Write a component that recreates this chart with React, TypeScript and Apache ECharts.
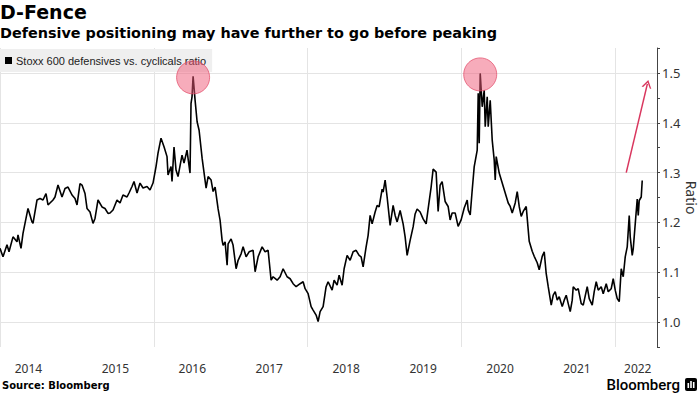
import React, { useEffect, useRef } from 'react';
import * as echarts from 'echarts';

const seriesName = 'Stoxx 600 defensives vs. cyclicals ratio';

const years = [
  2014.000, 2014.039, 2014.091, 2014.117, 2014.169, 2014.221, 2014.234, 2014.273, 2014.299, 2014.351,
  2014.364, 2014.416, 2014.429, 2014.481, 2014.520, 2014.559, 2014.598, 2014.624, 2014.689, 2014.715,
  2014.754, 2014.806, 2014.845, 2014.884, 2014.936, 2014.975, 2015.001, 2015.040, 2015.066, 2015.105,
  2015.131, 2015.170, 2015.209, 2015.235, 2015.274, 2015.326, 2015.365, 2015.404, 2015.430, 2015.469,
  2015.521, 2015.560, 2015.599, 2015.651, 2015.677, 2015.716, 2015.742, 2015.781, 2015.820, 2015.859,
  2015.911, 2015.950, 2015.989, 2016.028, 2016.054, 2016.093, 2016.132, 2016.171, 2016.184, 2016.223,
  2016.236, 2016.262, 2016.288, 2016.314, 2016.366, 2016.392, 2016.431, 2016.444, 2016.470, 2016.483,
  2016.496, 2016.510, 2016.536, 2016.562, 2016.588, 2016.627, 2016.653, 2016.679, 2016.705, 2016.744,
  2016.770, 2016.796, 2016.835, 2016.861, 2016.887, 2016.900, 2016.926, 2016.952, 2016.965, 2017.004,
  2017.030, 2017.069, 2017.095, 2017.134, 2017.160, 2017.199, 2017.238, 2017.290, 2017.316, 2017.355,
  2017.407, 2017.446, 2017.485, 2017.524, 2017.550, 2017.602, 2017.641, 2017.680, 2017.732, 2017.771,
  2017.810, 2017.849, 2017.901, 2017.940, 2017.966, 2018.005, 2018.044, 2018.070, 2018.109, 2018.135,
  2018.161, 2018.200, 2018.239, 2018.265, 2018.317, 2018.343, 2018.382, 2018.408, 2018.447, 2018.473,
  2018.512, 2018.551, 2018.590, 2018.629, 2018.668, 2018.694, 2018.720, 2018.759, 2018.785, 2018.811,
  2018.837, 2018.876, 2018.902, 2018.928, 2018.967, 2018.980, 2019.006, 2019.032, 2019.071, 2019.110,
  2019.136, 2019.162, 2019.201, 2019.240, 2019.266, 2019.292, 2019.331, 2019.370, 2019.396, 2019.422,
  2019.461, 2019.500, 2019.539, 2019.565, 2019.604, 2019.630, 2019.669, 2019.695, 2019.721, 2019.747,
  2019.786, 2019.825, 2019.851, 2019.877, 2019.916, 2019.955, 2019.994, 2020.034, 2020.073, 2020.086,
  2020.112, 2020.138, 2020.164, 2020.203, 2020.216, 2020.229, 2020.242, 2020.268, 2020.294, 2020.307,
  2020.333, 2020.346, 2020.372, 2020.398, 2020.424, 2020.437, 2020.450, 2020.489, 2020.528, 2020.567,
  2020.606, 2020.632, 2020.658, 2020.697, 2020.723, 2020.749, 2020.775, 2020.801, 2020.840, 2020.866,
  2020.879, 2020.918, 2020.944, 2020.983, 2021.009, 2021.048, 2021.074, 2021.100, 2021.126, 2021.165,
  2021.191, 2021.217, 2021.243, 2021.269, 2021.308, 2021.334, 2021.360, 2021.386, 2021.412, 2021.438,
  2021.451, 2021.490, 2021.516, 2021.555, 2021.581, 2021.633, 2021.659, 2021.698, 2021.724, 2021.750,
  2021.776, 2021.815, 2021.841, 2021.880, 2021.906, 2021.945, 2021.971, 2021.997, 2022.023, 2022.049,
  2022.075, 2022.101, 2022.127, 2022.153, 2022.179, 2022.192, 2022.218, 2022.231, 2022.257, 2022.283,
  2022.296, 2022.309, 2022.335, 2022.348,
];

const ratio = [
  1.148, 1.131, 1.155, 1.141, 1.171, 1.161, 1.175, 1.148, 1.178, 1.218,
  1.228, 1.201, 1.198, 1.245, 1.248, 1.245, 1.258, 1.235, 1.245, 1.251,
  1.275, 1.251, 1.268, 1.271, 1.255, 1.248, 1.235, 1.278, 1.275, 1.258,
  1.228, 1.221, 1.198, 1.208, 1.245, 1.231, 1.228, 1.218, 1.219, 1.225,
  1.245, 1.239, 1.255, 1.251, 1.259, 1.272, 1.282, 1.259, 1.279, 1.269,
  1.272, 1.265, 1.279, 1.312, 1.339, 1.369, 1.352, 1.332, 1.295, 1.312,
  1.282, 1.351, 1.305, 1.292, 1.335, 1.319, 1.345, 1.329, 1.299, 1.439,
  1.452, 1.493, 1.445, 1.402, 1.385, 1.329, 1.299, 1.269, 1.292, 1.285,
  1.262, 1.271, 1.227, 1.204, 1.164, 1.154, 1.161, 1.114, 1.157, 1.167,
  1.154, 1.107, 1.124, 1.137, 1.151, 1.131, 1.141, 1.144, 1.101, 1.131,
  1.151, 1.141, 1.144, 1.084, 1.091, 1.084, 1.091, 1.107, 1.091, 1.087,
  1.077, 1.071, 1.077, 1.081, 1.067, 1.057, 1.031, 1.024, 1.014, 1.001,
  1.021, 1.031, 1.071, 1.081, 1.064, 1.084, 1.074, 1.094, 1.074, 1.107,
  1.134, 1.124, 1.141, 1.144, 1.134, 1.131, 1.111, 1.151, 1.174, 1.214,
  1.197, 1.221, 1.234, 1.231, 1.267, 1.261, 1.285, 1.251, 1.194, 1.234,
  1.214, 1.201, 1.224, 1.197, 1.171, 1.134, 1.164, 1.191, 1.217, 1.227,
  1.221, 1.207, 1.197, 1.227, 1.271, 1.307, 1.301, 1.222, 1.275, 1.282,
  1.242, 1.232, 1.205, 1.219, 1.219, 1.192, 1.205, 1.229, 1.245, 1.225,
  1.215, 1.265, 1.312, 1.345, 1.459, 1.359, 1.499, 1.432, 1.465, 1.392,
  1.452, 1.392, 1.445, 1.365, 1.325, 1.285, 1.332, 1.299, 1.279, 1.259,
  1.239, 1.232, 1.219, 1.239, 1.262, 1.232, 1.212, 1.222, 1.232, 1.185,
  1.162, 1.142, 1.132, 1.119, 1.105, 1.132, 1.141, 1.097, 1.071, 1.034,
  1.054, 1.061, 1.044, 1.051, 1.031, 1.044, 1.054, 1.037, 1.021, 1.044,
  1.071, 1.064, 1.067, 1.037, 1.034, 1.071, 1.047, 1.034, 1.061, 1.081,
  1.064, 1.071, 1.057, 1.077, 1.061, 1.067, 1.087, 1.064, 1.047, 1.041,
  1.107, 1.091, 1.131, 1.151, 1.214, 1.171, 1.134, 1.147, 1.197, 1.247,
  1.214, 1.244, 1.251, 1.284,
];

// x-axis tick labels (year) and where each is centred (decimal year)
const yearLabels = ['2014', '2015', '2016', '2017', '2018', '2019', '2020', '2021', '2022'];
const yearLabelAt = [2014.37, 2015.5, 2016.5, 2017.5, 2018.5, 2019.5, 2020.5, 2021.5, 2022.29];

// y-axis tick labels
const yLabels = ['1.0', '1.1', '1.2', '1.3', '1.4', '1.5'];

// annotation arrow (decimal year, ratio)
const arrowFrom = [2022.14, 1.3];
const arrowTo = [2022.415, 1.478];

// windows searched for the two highlighted peaks
const peakWindows = [[2015, 2018], [2019, 2021]];

export default function App() {
  const ref = useRef<HTMLDivElement>(null);

  useEffect(() => {
    document.body.style.margin = '0';
    const chart = echarts.init(ref.current!, null, { renderer: 'svg' });

    const data = years.map((y, i) => [y, ratio[i]]);
    const peaks = peakWindows.map(([lo, hi]) => {
      let best = -1;
      for (let i = 0; i < years.length; i++) {
        if (years[i] >= lo && years[i] < hi && (best < 0 || ratio[i] > ratio[best])) best = i;
      }
      return best;
    });

    const sans = 'Noto Sans';

    const option: any = {
      animation: false,
      backgroundColor: '#ffffff',
      title: [
        {
          text: 'D-Fence',
          left: 0,
          top: 2,
          textStyle: { fontFamily: 'DejaVu Sans', fontWeight: 'bold', fontSize: 19, color: '#000' },
          padding: 0,
        },
        {
          text: 'Defensive positioning may have further to go before peaking',
          left: 0,
          top: 26,
          textStyle: { fontFamily: 'DejaVu Sans', fontWeight: 'bold', fontSize: 14.4, color: '#000' },
          padding: 0,
        },
      ],
      legend: {
        data: [seriesName],
        left: 0,
        top: 49,
        backgroundColor: '#efefef',
        padding: [6, 6, 6, 5],
        icon: 'rect',
        itemWidth: 7,
        itemHeight: 7,
        itemGap: 4,
        selectedMode: false,
        textStyle: { fontFamily: 'Liberation Sans', fontSize: 11, color: '#222', padding: [0, 0, 0, -1] },
      },
      grid: { left: 0, right: 43, top: 48, bottom: 47, containLabel: false, outerBoundsMode: 'none' },
      xAxis: {
        type: 'value',
        min: 2014,
        max: 2022.54,
        interval: 2,
        axisLine: { show: false },
        axisTick: { show: false },
        splitLine: { show: true, lineStyle: { color: '#e4e4e4', width: 1 } },
        axisLabel: {
          customValues: yearLabelAt,
          margin: 15,
          fontFamily: sans,
          fontSize: 12,
          color: '#333',
          formatter: (v: number) => {
            const idx = yearLabelAt.findIndex((p) => Math.abs(p - v) < 1e-6);
            return idx >= 0 ? yearLabels[idx] : '';
          },
        },
      },
      yAxis: {
        type: 'value',
        position: 'right',
        min: 0.95,
        max: 1.55,
        interval: 0.05,
        name: 'Ratio',
        nameLocation: 'middle',
        nameRotate: -90,
        nameGap: 27,
        nameMoveOverlap: false,
        nameTextStyle: { fontFamily: sans, fontSize: 14, color: '#333' },
        axisLine: { show: true, lineStyle: { color: '#444', width: 1 } },
        axisTick: { show: true, inside: false, length: 3, lineStyle: { color: '#444' } },
        splitLine: { show: true, lineStyle: { color: ['rgba(0,0,0,0)', '#e4e4e4'], width: 1 } },
        axisLabel: {
          margin: 5,
          fontFamily: sans,
          fontSize: 13,
          color: '#333',
          formatter: (v: number) => {
            const s = v.toFixed(1);
            return Math.round(v * 100) % 10 === 0 && yLabels.includes(s) ? s : '';
          },
        },
      },
      series: [
        {
          name: seriesName,
          type: 'line',
          data,
          showSymbol: false,
          symbol: 'none',
          color: '#000',
          lineStyle: { color: '#000', width: 1.6 },
          silent: true,
          markPoint: {
            silent: true,
            symbol: 'circle',
            symbolSize: 33,
            symbolOffset: [0, 1],
            label: { show: false },
            itemStyle: { color: 'rgba(240, 90, 120, 0.5)', borderColor: 'rgba(225, 70, 100, 0.7)', borderWidth: 1 },
            data: peaks.map((i) => ({ coord: [years[i], ratio[i]] })),
          },
          markLine: {
            silent: true,
            symbol: ['none', 'path://M0,10 L5,0 L10,10 L8.4,10 L5,3.2 L1.6,10 Z'],
            symbolSize: [10, 8],
            label: { show: false },
            lineStyle: { color: '#d9365e', width: 1.5, type: 'solid' },
            itemStyle: { color: '#d9365e' },
            data: [[{ coord: arrowFrom }, { coord: arrowTo }]],
          },
        },
      ],
      graphic: [
        {
          type: 'text',
          left: 2,
          top: 380,
          style: { text: 'Source: Bloomberg', fontFamily: 'DejaVu Sans', fontWeight: 'bold', fontSize: 10, fill: '#000' },
        },
        {
          type: 'text',
          right: 20,
          top: 377,
          style: { text: 'Bloomberg', fontFamily: 'Roboto', fontWeight: 500, fontSize: 15, fill: '#000' },
        },
        {
          type: 'group',
          right: 3,
          top: 378,
          children: [
            { type: 'rect', shape: { x: 0, y: 0, width: 12, height: 13, r: 2 }, style: { fill: '#000' } },
            { type: 'rect', shape: { x: 2.5, y: 5, width: 1.6, height: 5 }, style: { fill: '#fff' } },
            { type: 'rect', shape: { x: 5.2, y: 3, width: 1.6, height: 7 }, style: { fill: '#fff' } },
            { type: 'rect', shape: { x: 7.9, y: 4, width: 1.6, height: 6 }, style: { fill: '#fff' } },
          ],
        },
      ],
    };

    chart.setOption(option);
    return () => chart.dispose();
  }, []);

  return <div ref={ref} style={{ width: 700, height: 394 }} />;
}
